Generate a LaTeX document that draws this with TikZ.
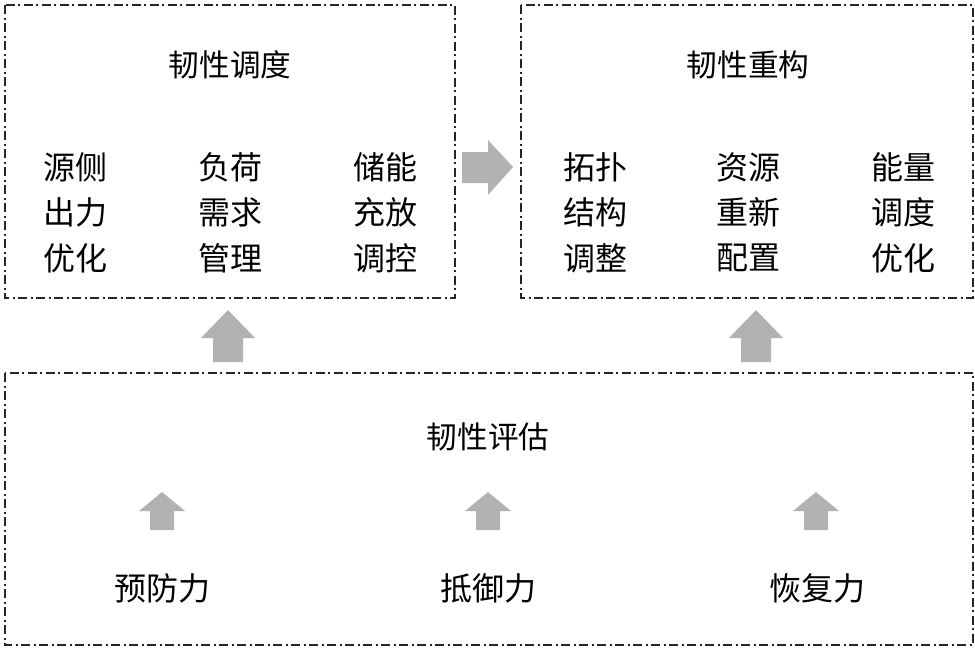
\documentclass[tikz,border=0pt]{standalone}
\usepackage{fontspec}
\setmainfont{Noto Sans CJK SC}
\begin{document}
\begin{tikzpicture}[x=0.75pt,y=-0.75pt,
  box/.style={draw=black!85,line width=0.8pt,dash pattern=on 7pt off 2.5pt on 1.5pt off 2.5pt},
  arr/.style={fill=black!30,draw=none},
  t/.style={font=\fontsize{23}{26}\selectfont,inner sep=0pt},
  it/.style={font=\fontsize{24}{28}\selectfont,inner sep=0pt,align=center}]
\useasboundingbox (0,0) rectangle (975,650);
\draw[box] (5,5) rectangle (455,298);
\draw[box] (521,5) rectangle (973,298);
\draw[box] (5,373) rectangle (973,645);
\node[t] (t1) at (230,65) {韧性调度};
\node[t] (t2) at (748,65) {韧性重构};
\node[t] (t3) at (488,437) {韧性评估};
\foreach \x/\a/\b/\c [count=\i] in {75/源侧/出力/优化,230/负荷/需求/管理,385/储能/充放/调控,595/拓扑/结构/调整,748/资源/重新/配置,903/能量/调度/优化}{
  \node[it] (a\i) at (\x,167) {\a};
  \node[it] (b\i) at (\x,212) {\b};
  \node[it] (c\i) at (\x,258) {\c};
}
\node[it] (p1) at (162,588) {预防力};
\node[it] (p2) at (488,588) {抵御力};
\node[it] (p3) at (817,588) {恢复力};
% right arrow
\fill[arr] (462,152) -- (488,152) -- (488,140) -- (513,167) -- (488,195) -- (488,183) -- (462,183) -- cycle;
% big up arrows
\foreach \c in {228,756}{
  \fill[arr] (\c-15,362) -- (\c-15,338) -- (\c-27,338) -- (\c,310) -- (\c+27,338) -- (\c+15,338) -- (\c+15,362) -- cycle;
}
% small up arrows
\foreach \c in {162,488,816}{
  \fill[arr] (\c-12,530) -- (\c-12,511) -- (\c-23,511) -- (\c,492) -- (\c+23,511) -- (\c+12,511) -- (\c+12,530) -- cycle;
}
\end{tikzpicture}
\end{document}
